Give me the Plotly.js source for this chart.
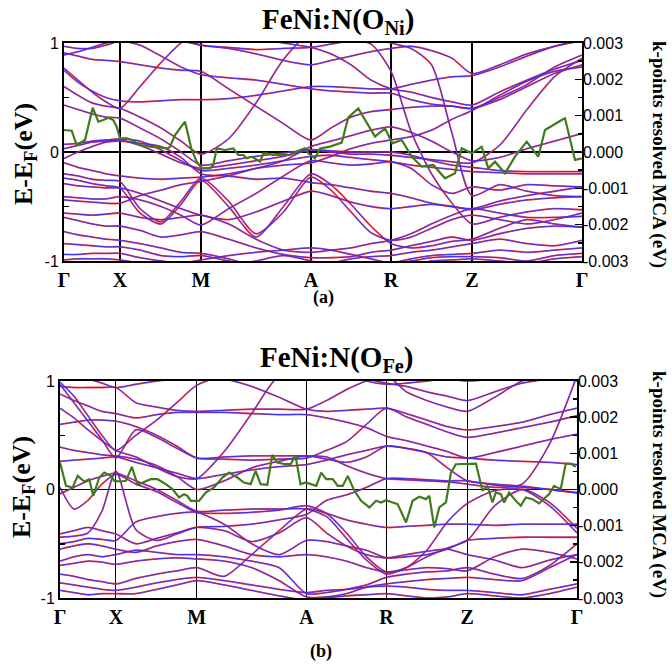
<!DOCTYPE html>
<html><head><meta charset="utf-8">
<script src="https://cdn.plot.ly/plotly-3.0.1.min.js"></script>
<style>html,body{margin:0;padding:0;background:#fff}</style>
</head><body>
<div id="chart" style="width:672px;height:664px"></div>
<script>
// k-path sample positions (Γ X M A R Z Γ segments, 4 steps each)
const kPath = [0,0.14,0.28,0.42,0.56, 0.76,0.97,1.17,1.37, 1.645,1.92,2.195,2.47, 2.67,2.87,3.07,3.27, 3.47,3.675,3.88,4.08, 4.355,4.63,4.905,5.18];
const kSymPos = [0,0.56,1.37,2.47,3.27,4.08,5.18];
const kSymLabels = ['Γ','X','M','A','R','Z','Γ'];

// Panel (a) FeNi:N(O_Ni) bands, E-E_F (eV)
const aB01 = [0.97,0.95,0.95,0.98,1.02, 1.05,1.05,1.02,0.98, 0.95,0.90,0.84,0.80, 0.84,0.88,0.92,0.95, 0.97,0.93,0.86,0.72, 0.80,0.90,0.97,1.02];
const aB02 = [0.91,0.88,0.85,0.84,0.83, 0.80,0.77,0.75,0.74, 0.58,0.42,0.26,0.11, 0.22,0.32,0.37,0.39, 0.41,0.42,0.42,0.40, 0.48,0.60,0.72,0.80];
const aB03 = [0.77,0.66,0.55,0.46,0.40, 0.60,0.82,1.00,1.10, 1.10,1.05,1.00,0.96, 0.90,0.80,0.66,0.58, 0.55,0.50,0.46,0.43, 0.55,0.66,0.76,0.84];
const aB04 = [0.75,0.64,0.56,0.50,0.47, 0.46,0.47,0.48,0.48, 0.49,0.52,0.56,0.60, 0.60,0.59,0.58,0.58, 0.62,0.66,0.69,0.70, 0.78,0.88,0.97,1.03];
const aB05 = [0.43,0.39,0.35,0.32,0.31, 0.22,0.12,0.00,-0.12, -0.08,-0.04,-0.01,0.02, 0.00,-0.02,-0.02,-0.03, -0.05,-0.07,-0.09,-0.10, 0.06,0.39,0.69,0.86];
const aB06 = [0.03,0.06,0.09,0.10,0.11, 0.06,-0.02,-0.10,-0.15, -0.12,-0.08,-0.04,0.02, 0.01,0.00,0.00,0.00, -0.03,-0.08,-0.12,-0.14, -0.17,-0.18,-0.18,-0.18];
const aB07 = [0.07,0.08,0.10,0.11,0.12, 0.10,0.02,-0.08,-0.17, -0.15,-0.12,-0.08,-0.04, -0.03,-0.05,-0.07,-0.09, -0.12,-0.14,-0.16,-0.18, -0.19,-0.20,-0.20,-0.20];
const aB08 = [-0.06,0.00,0.05,0.09,0.10, 0.08,0.05,-0.05,-0.20, -0.22,-0.25,-0.24,-0.28, -0.30,-0.33,-0.36,-0.38, -0.42,-0.47,-0.50,-0.52, -0.45,-0.40,-0.36,-0.32];
const aB09 = [-0.20,-0.22,-0.25,-0.26,-0.27, -0.52,-0.64,-0.45,-0.24, -0.45,-0.75,-0.55,-0.23, -0.35,-0.55,-0.74,-0.81, -0.78,-0.70,-0.62,-0.58, -0.62,-0.66,-0.62,-0.56];
const aB10 = [-0.24,-0.26,-0.29,-0.31,-0.33, -0.56,-0.66,-0.48,-0.26, -0.50,-0.78,-0.50,-0.20, -0.30,-0.48,-0.68,-0.84, -0.88,-0.86,-0.82,-0.80, -0.70,-0.62,-0.66,-0.69];
const aB11 = [1.05,1.05,1.08,1.10,1.10, 1.10,1.10,1.05,0.98, 0.96,0.94,0.95,0.96, 0.99,1.02,0.99,0.74, 0.19,-0.20,-0.47,-0.66, -0.60,-0.55,-0.52,-0.53];
const aB12 = [0.60,0.52,0.45,0.42,0.40, 0.32,0.22,0.10,-0.02, 0.12,0.45,0.85,1.10, 1.10,1.10,1.05,1.00, 0.95,0.80,0.17,-0.40, -0.30,-0.36,-0.40,-0.41];
const aB13 = [-0.29,-0.31,-0.32,-0.33,-0.33, -0.38,-0.45,-0.52,-0.58, -0.62,-0.55,-0.45,-0.36, -0.40,-0.46,-0.50,-0.52, -0.50,-0.48,-0.50,-0.53, -0.48,-0.44,-0.42,-0.41];
const aB14 = [-0.41,-0.42,-0.43,-0.43,-0.41, -0.44,-0.50,-0.58,-0.67, -0.52,-0.38,-0.22,-0.08, -0.10,-0.12,-0.11,-0.09, -0.15,-0.30,-0.38,-0.32, -0.35,-0.30,-0.31,-0.32];
const aB15 = [-0.56,-0.57,-0.58,-0.57,-0.56, -0.60,-0.62,-0.60,-0.58, -0.66,-0.80,-0.90,-0.92, -0.90,-0.88,-0.84,-0.81, -0.75,-0.66,-0.58,-0.52, -0.56,-0.60,-0.60,-0.59];
const aB16 = [-0.60,-0.63,-0.66,-0.68,-0.68, -0.72,-0.78,-0.76,-0.73, -0.80,-0.88,-0.94,-0.97, -0.97,-0.96,-0.92,-0.90, -0.86,-0.82,-0.78,-0.81, -0.75,-0.70,-0.68,-0.69];
const aB17 = [-0.73,-0.76,-0.78,-0.80,-0.81, -0.84,-0.88,-0.92,-0.93, -0.98,-1.05,-1.05,-1.05, -1.02,-0.98,-0.96,-0.95, -0.92,-0.90,-0.87,-0.84, -0.80,-0.84,-0.86,-0.81];
const aB18 = [-0.84,-0.85,-0.86,-0.87,-0.87, -0.90,-0.95,-0.96,-0.95, -1.00,-1.05,-1.10,-1.10, -1.10,-1.10,-1.05,-1.02, -0.98,-0.95,-0.94,-0.93, -0.90,-0.92,-0.90,-0.88];
const aB19 = [-0.94,-0.94,-0.93,-0.93,-0.93, -0.97,-1.00,-1.02,-0.99, -0.95,-0.92,-0.90,-0.88, -0.90,-0.94,-0.98,-1.02, -1.00,-0.97,-0.96,-0.96, -0.97,-1.00,-0.95,-0.93];
const aB20 = [-0.99,-0.98,-0.98,-0.98,-0.99, -1.02,-1.05,-1.05,-1.05, -1.05,-1.00,-0.95,-1.00, -1.05,-1.10,-1.10,-1.10, -1.05,-1.00,-0.99,-0.98, -1.00,-1.02,-0.98,-0.96];
const aB21 = [0.89,0.92,0.96,1.00,1.02, 0.98,0.88,0.78,0.71, 0.68,0.66,0.62,0.58, 0.56,0.55,0.54,0.54, 0.48,0.44,0.42,0.40, 0.50,0.62,0.78,0.89];
const aB22 = [-0.10,-0.14,-0.17,-0.20,-0.22, -0.24,-0.25,-0.24,-0.23, -0.20,-0.15,-0.08,0.05, 0.10,0.15,0.20,0.23, 0.18,0.10,0.00,-0.08, -0.05,0.03,0.10,0.17];
const aB23 = [-0.44,-0.45,-0.46,-0.47,-0.47, -0.40,-0.35,-0.30,-0.27, -0.22,-0.15,-0.12,-0.10, -0.04,0.03,0.08,0.11, 0.14,0.20,0.30,0.38, 0.52,0.65,0.74,0.78];

// Panel (b) FeNi:N(O_Fe) bands
const bB01 = [0.97,0.80,0.63,0.46,0.29, 0.55,0.48,0.38,0.29, 0.28,0.27,0.28,0.29, 0.36,0.44,0.60,0.75, 0.67,0.60,0.53,0.48, 0.52,0.57,0.62,0.68];
const bB02 = [0.95,0.94,0.94,0.94,0.94, 0.80,0.76,0.73,0.72, 0.73,0.74,0.74,0.74, 0.82,0.92,1.00,1.05, 0.90,0.82,0.76,0.72, 0.85,1.00,1.05,1.08];
const bB03 = [0.88,0.82,0.77,0.72,0.70, 0.66,0.69,0.71,0.71, 0.71,0.70,0.69,0.69, 0.66,0.62,0.57,0.49, 0.45,0.40,0.35,0.29, 0.34,0.40,0.46,0.51];
const bB04 = [0.75,0.66,0.55,0.45,0.36, 0.30,0.20,0.12,0.10, 0.35,0.70,1.05,1.10, 1.10,1.08,1.00,0.97, 0.98,1.00,1.02,1.00, 1.02,1.05,1.05,1.00];
const bB05 = [0.99,0.86,0.68,0.50,0.36, 0.50,0.64,0.80,0.96, 1.05,1.05,1.05,1.05, 1.05,1.05,1.02,0.98, 0.95,0.90,0.86,0.82, 0.90,0.98,1.02,1.05];
const bB06 = [0.39,0.36,0.34,0.32,0.31, 0.28,0.22,0.12,0.00, 0.08,0.20,0.26,0.31, 0.28,0.25,0.30,0.40, 0.38,0.34,0.30,0.29, 0.27,0.26,0.25,0.23];
const bB07 = [0.26,0.27,0.28,0.29,0.30, 0.25,0.20,0.15,0.10, 0.14,0.18,0.21,0.23, 0.27,0.32,0.36,0.40, 0.38,0.34,0.20,0.08, 0.05,0.03,0.00,-0.03];
const bB08 = [-0.04,0.02,0.08,0.12,0.15, 0.08,0.00,-0.10,-0.20, -0.19,-0.18,-0.18,-0.18, -0.25,-0.45,-0.65,-0.78, -0.72,-0.62,-0.54,-0.47, -0.15,0.00,-0.12,-0.36];
const bB09 = [0.02,-0.18,-0.10,0.05,0.14, 0.05,-0.02,-0.12,-0.21, -0.22,-0.21,-0.19,-0.15, -0.22,-0.40,-0.62,-0.76, -0.72,-0.56,-0.30,-0.13, -0.01,0.00,-0.15,-0.40];
const bB10 = [-0.41,-0.38,-0.35,-0.38,-0.41, -0.50,-0.45,-0.40,-0.35, -0.38,-0.48,-0.40,-0.26, -0.40,-0.52,-0.60,-0.63, -0.60,-0.57,-0.55,-0.60, -0.65,-0.72,-0.65,-0.60];
const bB11 = [-0.44,-0.43,-0.40,-0.20,0.17, -0.37,-0.47,-0.41,-0.35, -0.34,-0.32,-0.28,-0.23, -0.10,-0.05,0.02,0.10, 0.10,0.09,0.08,0.08, 0.04,0.02,0.00,-0.03];
const bB12 = [-0.50,-0.48,-0.45,-0.46,-0.47, -0.30,-0.25,-0.22,-0.21, -0.32,-0.50,-0.60,-0.47, -0.48,-0.52,-0.56,-0.63, -0.62,-0.60,-0.55,-0.47, -0.45,-0.44,-0.44,-0.44];
const bB13 = [-0.66,-0.62,-0.60,-0.62,-0.60, -0.56,-0.58,-0.60,-0.60, -0.62,-0.66,-0.72,-0.96, -0.95,-0.92,-0.88,-0.81, -0.78,-0.76,-0.75,-0.72, -0.78,-0.82,-0.70,-0.50];
const bB14 = [-0.70,-0.68,-0.66,-0.67,-0.69, -0.66,-0.64,-0.63,-0.64, -0.66,-0.72,-0.84,-0.99, -0.99,-0.96,-0.90,-0.87, -0.85,-0.83,-0.82,-0.81, -0.83,-0.84,-0.72,-0.60];
const bB15 = [-0.78,-0.80,-0.83,-0.85,-0.87, -0.82,-0.78,-0.75,-0.72, -0.80,-0.60,-0.38,-0.18, -0.22,-0.28,-0.32,-0.35, -0.34,-0.33,-0.32,-0.32, -0.33,-0.32,-0.32,-0.32];
const bB16 = [-0.86,-0.88,-0.90,-0.92,-0.93, -0.90,-0.86,-0.83,-0.81, -0.84,-0.88,-0.92,-0.95, -0.93,-0.92,-0.90,-0.89, -0.90,-0.92,-0.93,-0.93, -0.95,-0.97,-0.92,-0.87];
const bB17 = [-0.93,-0.95,-0.97,-0.96,-0.96, -0.96,-0.92,-0.88,-0.84, -0.88,-0.93,-0.98,-1.02, -1.00,-0.98,-0.97,-0.96, -0.98,-1.00,-0.99,-0.96, -0.98,-1.00,-0.96,-0.90];
const bB18 = [0.60,0.62,0.64,0.64,0.63, 0.58,0.50,0.40,0.29, 0.30,0.31,0.31,0.31, 0.30,0.22,0.15,0.10, 0.09,0.08,0.07,0.05, 0.02,0.05,0.42,1.05];
const bB19 = [1.05,1.05,1.02,0.98,0.94, 0.97,1.00,1.02,1.05, 1.02,0.95,0.85,0.74, 0.72,0.73,0.74,0.75, 0.70,0.64,0.58,0.55, 0.58,0.62,0.69,0.75];
const bB20 = [-0.55,-0.52,-0.50,-0.52,-0.55, -0.58,-0.52,-0.48,-0.46, -0.52,-0.60,-0.62,-0.60, -0.62,-0.66,-0.72,-0.76, -0.74,-0.72,-0.73,-0.75, -0.62,-0.55,-0.58,-0.64];

// k-points resolved MCA (eV)
const kMcaA = [0,0.077,0.127,0.21,0.287,0.343,0.393,0.443,0.493,0.527,0.56,0.627,0.677,0.76,0.86,0.96,1.043,1.06,1.11,1.21,1.277,1.327,1.377,1.46,1.493,1.527,1.61,1.693,1.743,1.793,1.827,1.877,1.96,1.993,2.027,2.093,2.16,2.26,2.36,2.41,2.443,2.51,2.56,2.66,2.777,2.843,2.943,3.027,3.11,3.21,3.283,3.377,3.477,3.577,3.693,3.81,3.91,3.977,4.077,4.177,4.243,4.31,4.41,4.51,4.627,4.743,4.81,4.977,5.01,5.11,5.177];
const mcaA = [0.000606,0.000587,0.000193,0.00033,0.00122,0.000835,0.00088,0.000945,0.00088,0.000697,0.000376,0.000376,0.00033,0.000193,0.000147,0.000128,0.0001,0.000147,0.000468,0.000835,0.000055,-0.000266,-0.00045,-0.00045,-0.000358,0.0001,0.000055,0.0001,-0.000083,-0.000083,-0.000174,-0.000128,-0.000266,-0.000037,-0.000037,-0.000083,-0.000083,-0.000083,0.000055,0.0001,-0.000037,-0.000174,0.0001,0.000147,0.000257,0.000954,0.0012,0.00079,0.000422,0.00065,0.000239,0.00033,-0.000128,-0.000404,-0.000358,-0.000725,-0.000587,0.0001,-0.000037,0.000147,-0.00045,-0.000266,-0.000587,-0.000128,0.000284,-0.000128,0.000606,0.00088,0.000927,-0.00022,-0.000174];
const kMcaB = [0,0.06,0.127,0.177,0.243,0.293,0.333,0.393,0.443,0.51,0.543,0.61,0.66,0.72,0.777,0.827,0.91,0.977,1.06,1.127,1.193,1.243,1.277,1.31,1.393,1.46,1.543,1.627,1.693,1.777,1.843,1.91,1.96,2.01,2.077,2.127,2.177,2.26,2.31,2.36,2.41,2.46,2.50,2.567,2.617,2.667,2.733,2.783,2.833,2.883,2.95,3.017,3.10,3.167,3.217,3.267,3.333,3.383,3.467,3.533,3.60,3.667,3.70,3.75,3.80,3.867,3.917,3.967,4.167,4.233,4.283,4.333,4.367,4.417,4.45,4.50,4.567,4.617,4.667,4.733,4.80,4.90,4.95,5.017,5.067,5.117,5.167];
const mcaB = [0.000745,0.0001,0.000055,0.000377,0.000221,0.000285,-0.000175,0.000331,0.000469,0.000377,0.000239,0.000221,0.000239,0.000626,0.000129,0.000193,0.000285,0.000285,0.000147,0.000009,-0.000221,-0.000129,-0.000175,-0.000313,-0.000313,-0.000083,0.000055,0.000331,0.000469,0.000331,0.000193,0.000147,0.000515,0.000147,0.000129,0.000957,0.000745,0.000699,0.000699,0.000929,0.000147,0.000193,0.000166,0.0001,0.000469,0.000285,0.000285,0.0001,0.0001,0.000377,-0.000037,-0.000313,-0.000497,-0.000313,-0.000359,-0.000294,-0.000359,-0.000405,-0.000911,-0.000313,-0.000202,-0.000267,-0.000175,-0.001049,-0.000497,-0.000359,0.000469,0.000699,0.000718,-0.000037,0.0001,-0.000359,-0.000083,-0.000129,-0.000359,-0.000083,-0.000313,-0.000451,-0.000221,-0.000267,-0.000386,-0.000129,0.0001,0.000009,0.000718,0.000718,0.000626];

const eTicks = [-1,0,1];
const eTickText = ['-1','0','1'];
const eMinor = [-0.5,0.5];
const mcaTicks = [-0.003,-0.002,-0.001,0,0.001,0.002,0.003];
const mcaTickText = ['-0.003','-0.002','-0.001','0.000','0.001','0.002','0.003'];
const mcaMinor = [-0.0025,-0.0015,-0.0005,0.0005,0.0015,0.0025];

const bandsA = [aB01,aB02,aB03,aB04,aB05,aB06,aB07,aB08,aB09,aB10,aB11,aB12,aB13,aB14,aB15,aB16,aB17,aB18,aB19,aB20,aB21,aB22,aB23];
const bandsB = [bB01,bB02,bB03,bB04,bB05,bB06,bB07,bB08,bB09,bB10,bB11,bB12,bB13,bB14,bB15,bB16,bB17,bB18,bB19,bB20];

const traces = [];
function addBands(bands, xa, ya) {
  bands.forEach(b => traces.push({x:kPath, y:b, xaxis:xa, yaxis:ya, mode:'lines', hoverinfo:'skip', showlegend:false,
    line:{color:'rgba(255,20,20,0.8)', width:1.8, shape:'spline', smoothing:0.7}}));
  bands.forEach(b => traces.push({x:kPath, y:b, xaxis:xa, yaxis:ya, mode:'lines', hoverinfo:'skip', showlegend:false,
    line:{color:'#3232ff', width:1.0, shape:'spline', smoothing:0.7}}));
}
addBands(bandsA, 'x', 'y');
addBands(bandsB, 'x2', 'y3');
traces.push({x:kMcaA, y:mcaA, xaxis:'x', yaxis:'y2', mode:'lines', showlegend:false, line:{color:'#3f7a1c', width:2.2}});
traces.push({x:kMcaB, y:mcaB, xaxis:'x2', yaxis:'y4', mode:'lines', showlegend:false, line:{color:'#3f7a1c', width:2.2}});

const W = 672, H = 664;
const serif = 'Liberation Serif, Times New Roman, serif';
const sans = 'Liberation Sans, Arial, sans-serif';
function xAxis(l, r, anchor) {
  return {domain:[l/W, r/W], anchor:anchor, range:[0,5.18], tickmode:'array', tickvals:kSymPos,
    ticktext:kSymLabels.map(s => '<b>'+s+'</b>'), ticks:'', showgrid:true, gridcolor:'#000', gridwidth:1.2,
    zeroline:false, showline:true, mirror:true, linecolor:'#000', linewidth:2,
    tickfont:{family:serif, size:20, color:'#000'}, fixedrange:true};
}
function yLeft(top, bot, anchor) {
  return {domain:[1-bot/H, 1-top/H], anchor:anchor, range:[-1,1], tickmode:'array', tickvals:eTicks,
    ticktext:eTickText, ticks:'inside', ticklen:5, tickcolor:'#000', tickwidth:1.5, showgrid:false,
    minor:{tickmode:'array', tickvals:eMinor, ticks:'inside', ticklen:5, tickcolor:'#000', showgrid:false},
    zeroline:true, zerolinecolor:'#000', zerolinewidth:1.6, showline:true, mirror:true, linecolor:'#000', linewidth:2,
    tickfont:{family:sans, size:16, color:'#000'}, fixedrange:true};
}
function yRight(over, anchor) {
  return {overlaying:over, side:'right', anchor:anchor, range:[-0.003,0.003], tickmode:'array', tickvals:mcaTicks,
    ticktext:mcaTickText, ticks:'inside', ticklen:7, tickcolor:'#000', tickwidth:1.5, showgrid:false, zeroline:false,
    showline:false, minor:{tickmode:'array', tickvals:mcaMinor, ticks:'inside', ticklen:4, tickcolor:'#000', showgrid:false},
    tickfont:{family:sans, size:16, color:'#000'}, fixedrange:true};
}
const ann = (text, x, y, size, angle) => ({text:text, x:x/W, y:1-y/H, xref:'paper', yref:'paper', showarrow:false,
  xanchor:'center', yanchor:'middle', textangle:angle||0, font:{family:serif, size:size, color:'#000'}});

const layout = {
  width:W, height:H, margin:{l:0,r:0,t:0,b:0}, paper_bgcolor:'#fff', plot_bgcolor:'#fff', showlegend:false,
  xaxis: xAxis(64, 582, 'y'),
  yaxis: yLeft(43, 261, 'x'),
  yaxis2: yRight('y', 'x'),
  xaxis2: xAxis(60, 577, 'y3'),
  yaxis3: yLeft(381, 598, 'x2'),
  yaxis4: yRight('y3', 'x2'),
  annotations: [
    ann('<b>FeNi:N(O<sub>Ni</sub>)</b>', 338, 21, 29),
    ann('<b>FeNi:N(O<sub>Fe</sub>)</b>', 336, 359, 29),
    ann('<b>E-E<sub>F</sub>(eV)</b>', 25, 154, 26, -90),
    ann('<b>E-E<sub>F</sub>(eV)</b>', 23, 487, 26, -90),
    ann('<b>k-points resolved MCA (eV)</b>', 659, 154, 19, 90),
    ann('<b>k-points resolved MCA (eV)</b>', 659, 484, 19, 90),
    ann('<b>(a)</b>', 323, 297, 18),
    ann('<b>(b)</b>', 321, 651, 18)
  ]
};
Plotly.newPlot('chart', traces, layout, {staticPlot:true, displayModeBar:false});
</script>
</body></html>
